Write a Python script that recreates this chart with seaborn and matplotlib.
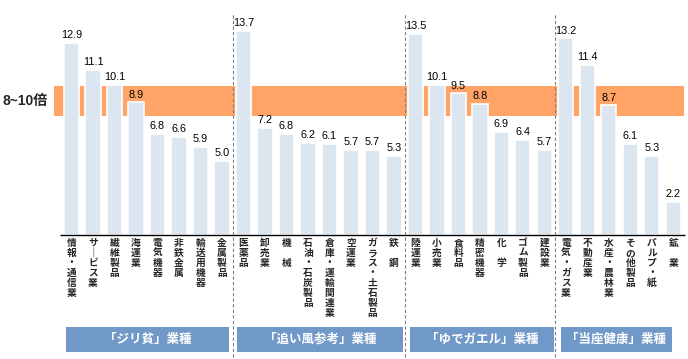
"""
PER by industry, grouped into four categories, with the 8~10x band highlighted
"""
import matplotlib
matplotlib.use('Agg')
import matplotlib.pyplot as plt
from matplotlib.patches import Rectangle
import seaborn as sns
import pandas as pd

# --- data ---
industries = [
    '情報・通信業', 'サービス業', '繊維製品', '海運業', '電気機器', '非鉄金属', '輸送用機器', '金属製品',
    '医薬品', '卸売業', '機　械', '石油・石炭製品', '倉庫・運輸関連業', '空運業', 'ガラス・土石製品', '鉄　鋼',
    '陸運業', '小売業', '食料品', '精密機器', '化　学', 'ゴム製品', '建設業',
    '電気・ガス業', '不動産業', '水産・農林業', 'その他製品', 'パルプ・紙', '鉱　業',
]
per_values = [
    12.9, 11.1, 10.1, 8.9, 6.8, 6.6, 5.9, 5.0,
    13.7, 7.2, 6.8, 6.2, 6.1, 5.7, 5.7, 5.3,
    13.5, 10.1, 9.5, 8.8, 6.9, 6.4, 5.7,
    13.2, 11.4, 8.7, 6.1, 5.3, 2.2,
]
group_names = ['「ジリ貧」業種', '「追い風参考」業種', '「ゆでガエル」業種', '「当座健康」業種']
group_sizes = [8, 8, 7, 6]
band_low, band_high = 8, 10
band_label = '8~10倍'

W, H = 688, 359
BAR_COLOR = '#DCE6F1'
BAND_COLOR = '#FFA366'
GROUP_COLOR = '#7099C9'
CJK = 'Noto Sans CJK JP'

sns.set_theme(style='white')
plt.rcParams['font.family'] = ['Liberation Sans', 'Noto Sans CJK JP', 'DejaVu Sans']

fig = plt.figure(figsize=(W / 100, H / 100), dpi=100)


def fx(x):
    return x / W


def fy(y):
    return 1 - y / H


# axes placed so that bar centres / value scale line up with the reference
x0, x1 = -0.814, 28.49
y0, y1 = 0, 14.6
left_px, right_px = 54, 684
base_px = 235
px_per_unit = 14.9
top_px = base_px - y1 * px_per_unit
ax = fig.add_axes([fx(left_px), fy(base_px), fx(right_px - left_px), (base_px - top_px) / H])

df = pd.DataFrame({'industry': industries, 'per': per_values})

ax.axhspan(band_low, band_high, color=BAND_COLOR, zorder=0, lw=0)
sns.barplot(data=df, x='industry', y='per', order=industries, color=BAR_COLOR,
            saturation=1, width=0.7, edgecolor='white', linewidth=1.2, ax=ax, zorder=2)
ax.bar_label(ax.containers[0], fmt='%.1f', padding=2, fontsize=7.8, color='black')

ax.set_xlim(x0, x1)
ax.set_ylim(y0, y1)
ax.set_axis_off()

# baseline
ax.hlines(0, -0.55, len(industries) - 0.45, color='black', lw=1.0, zorder=3, clip_on=False)

# group separators
bottom_data = (base_px - 357) / px_per_unit
pos = 0
for n in group_sizes[:-1]:
    pos += n
    ax.vlines(pos - 0.5, bottom_data, y1 + 0.2, color='#808080', lw=0.8,
              linestyles=(0, (3, 2)), clip_on=False, zorder=4)

# vertical category labels, one character at a time
for i, name in enumerate(industries):
    for k, ch in enumerate(name.replace('ー', '｜')):
        ax.text(i, -(3 + 10 * k) / px_per_unit, ch, ha='center', va='top',
                fontsize=7, family=CJK, fontweight='bold', clip_on=False)

# band label
fig.text(fx(25), fy(101), band_label, ha='center', va='center', fontsize=10,
         fontweight='bold', family=['Liberation Sans', CJK])

# group boxes
box_edges = [(66, 229), (237, 403), (410, 554), (561, 672)]
for (bx0, bx1), name in zip(box_edges, group_names):
    fig.add_artist(Rectangle((fx(bx0), fy(352)), fx(bx1 - bx0), (352 - 327) / H,
                             transform=fig.transFigure, facecolor=GROUP_COLOR, lw=0))
    fig.text(fx((bx0 + bx1) / 2), fy(339.5), name, ha='center', va='center',
             fontsize=9, color='white', fontweight='bold', family=CJK)

fig.savefig('out.png', dpi=100)
